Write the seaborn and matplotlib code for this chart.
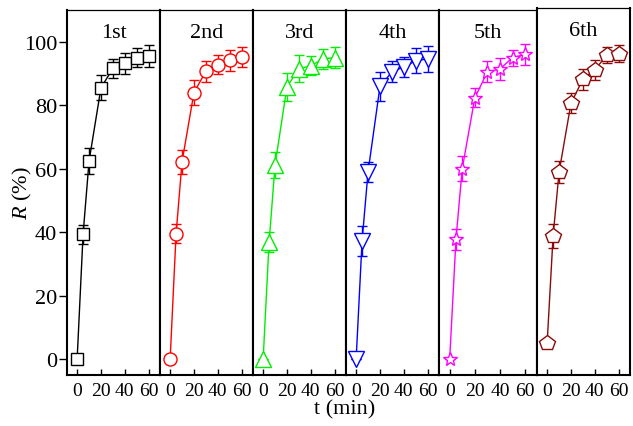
import matplotlib
matplotlib.use("Agg")
import matplotlib.pyplot as plt
import pandas as pd
import seaborn as sns

# Removal efficiency R (%) over six reuse cycles, sampled at the same times
time_min = [0, 5, 10, 20, 30, 40, 50, 60]
cycles = ["1st", "2nd", "3rd", "4th", "5th", "6th"]

removal_1st = [0, 39.4, 62.4, 85.5, 91.6, 93.2, 95.0, 95.5]
removal_2nd = [0, 39.5, 62.2, 84.0, 90.7, 92.8, 94.1, 95.1]
removal_3rd = [0, 36.8, 61.2, 85.8, 91.5, 92.4, 94.6, 95.0]
removal_4th = [0, 37.3, 59.0, 85.9, 90.5, 92.1, 94.0, 94.6]
removal_5th = [0, 37.7, 60.0, 82.3, 90.5, 91.4, 95.0, 96.0]
removal_6th = [5.0, 38.8, 58.9, 80.6, 88.2, 91.2, 95.7, 96.2]

error_1st = [0, 3.0, 4.0, 3.9, 3.0, 3.3, 3.0, 3.4]
error_2nd = [0, 3.0, 3.8, 4.0, 3.3, 3.1, 3.4, 3.1]
error_3rd = [0, 3.2, 4.2, 4.5, 4.2, 3.0, 3.1, 3.4]
error_4th = [0, 4.7, 3.2, 4.5, 3.3, 3.2, 4.0, 4.2]
error_5th = [0, 3.2, 4.0, 3.0, 3.3, 3.5, 2.5, 3.3]
error_6th = [0, 3.7, 3.4, 3.2, 3.3, 3.2, 2.5, 2.7]

x_ticks = [0, 20, 40, 60]
y_ticks = [0, 20, 40, 60, 80, 100]

removals = [removal_1st, removal_2nd, removal_3rd, removal_4th, removal_5th, removal_6th]
errors = [error_1st, error_2nd, error_3rd, error_4th, error_5th, error_6th]

colors = ["#000000", "#ff0000", "#00ee00", "#0000ff", "#ff00ff", "#8b0a0a"]
markers = ["s", "o", "^", "v", "*", "p"]
marker_sizes = [8, 9.4, 11.3, 11.8, 10.8, 11.5]

sns.set_theme(style="ticks")
plt.rcParams["font.family"] = ["Liberation Serif", "DejaVu Serif"]
plt.rcParams["mathtext.fontset"] = "custom"
plt.rcParams["mathtext.rm"] = "Liberation Serif"
plt.rcParams["mathtext.it"] = "Liberation Serif:italic"

W, H = 633, 427
fig = plt.figure(figsize=(W / 100, H / 100), dpi=100)
fig.patch.set_facecolor("white")

# panel edges in pixels (left, right), shared bottom/top
edges = [(67, 160), (160, 253), (253, 346), (346, 439), (439, 537), (537, 630)]
bottom_px, top_px = 376, 11
px_per_unit = (bottom_px - top_px) / 115.0

for i, (name, vals, errs) in enumerate(zip(cycles, removals, errors)):
    left, right = edges[i]
    top = top_px - 2 if i == 5 else top_px
    ax = fig.add_axes([left / W, 1 - bottom_px / H, (right - left) / W, (bottom_px - top) / H])
    ax.set_facecolor("white")

    df = pd.DataFrame({"t": time_min, "R": vals})
    ax.errorbar(time_min, vals, yerr=errs, fmt="none", ecolor=colors[i],
                elinewidth=1.0, capsize=3.3, capthick=1.0, zorder=2)
    sns.lineplot(data=df, x="t", y="R", ax=ax, color=colors[i], linewidth=1.0,
                 marker=markers[i], markersize=marker_sizes[i],
                 markerfacecolor="white", markeredgecolor=colors[i],
                 markeredgewidth=1.0, errorbar=None, zorder=3)

    ax.set_xlim(-8.5, 69.5)
    ax.set_ylim(-5, -5 + (bottom_px - top) / px_per_unit)
    ax.set_xticks(x_ticks)
    ax.set_xticklabels([str(v) for v in x_ticks], fontsize=14)
    ax.tick_params(axis="x", direction="in", length=4.5, width=1.0, pad=5, colors="black")
    ax.set_xlabel("")
    ax.set_ylabel("")

    if i == 0:
        ax.set_yticks(y_ticks)
        ax.set_yticklabels([str(v) for v in y_ticks], fontsize=16)
        ax.tick_params(axis="y", direction="out", length=6, width=1.0, pad=1, colors="black")
    else:
        ax.set_yticks([])

    for side in ["left", "right", "bottom"]:
        ax.spines[side].set_visible(True)
        ax.spines[side].set_linewidth(1.5)
        ax.spines[side].set_color("black")
    ax.spines["top"].set_visible(True)
    ax.spines["top"].set_linewidth(0.9)
    ax.spines["top"].set_color("black")

    ax.text(0.5, 1 - 22 / (bottom_px - top), name, transform=ax.transAxes,
            ha="center", va="center", fontsize=16, color="black")

fig.text(22 / W, 1 - 193 / H, r"$R$ (%)", rotation=90, ha="center", va="center",
         fontsize=16, color="black")
fig.text(345 / W, 1 - 410 / H, "t (min)", ha="center", va="center",
         fontsize=16, color="black")

fig.savefig("out.png", dpi=100, facecolor="white")
